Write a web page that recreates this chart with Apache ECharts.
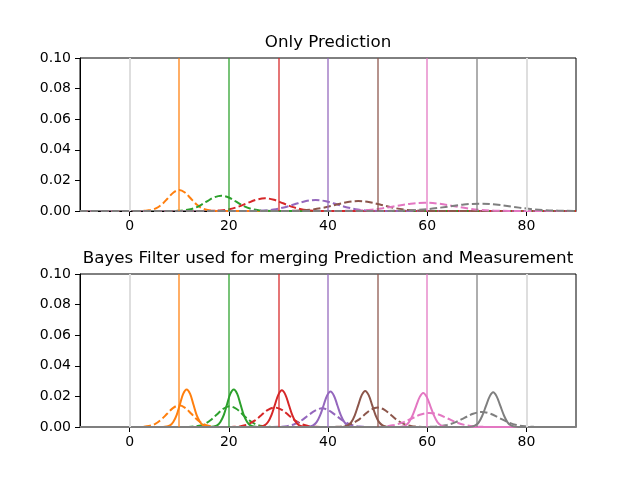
<!DOCTYPE html>
<head>
    <meta charset="utf-8">
    <title>Bayes Filter</title>
    <script src="https://cdn.jsdelivr.net/npm/echarts@6/dist/echarts.min.js"></script>
</head>
<body style="margin:0">
<div id="main" style="width:640px;height:480px"></div>
<script type="text/javascript">
    // axis range and ticks
    var xMin = -10, xMax = 90;
    var xTicks = [0, 20, 40, 60, 80];

    // measurement positions (coloured) and outer landmarks (light gray)
    var measurePos = [10, 20, 30, 40, 50, 60, 70];
    var landmarkPos = [0, 80];

    // top plot: prediction only (dashed)
    var predOrange = [[3.1,0.00015],[4.25,0.0006],[5.4,0.00185],[6.55,0.00445],[7.7,0.0083],[8.85,0.0121],[10,0.0137],[11.15,0.0121],[12.3,0.0083],[13.45,0.00445],[14.6,0.00185],[15.75,0.0006],[16.9,0.00015]];
    var predGreen = [[9.5,0.00011],[11,0.00044],[12.5,0.00135],[14,0.00325],[15.5,0.00607],[17,0.00883],[18.5,0.01],[20,0.00883],[21.5,0.00607],[23,0.00325],[24.5,0.00135],[26,0.00044],[27.5,0.00011]];
    var predRed = [[16.35,0.00009],[18.2,0.00036],[20,0.00112],[21.8,0.0027],[23.65,0.00503],[25.5,0.00733],[27.3,0.0083],[29.1,0.00733],[30.95,0.00503],[32.8,0.0027],[34.6,0.00112],[36.4,0.00036],[38.25,0.00009]];
    var predPurple = [[24.75,0.00008],[26.9,0.00032],[29,0.00097],[31.1,0.00234],[33.25,0.00437],[35.4,0.00635],[37.5,0.0072],[39.6,0.00635],[41.75,0.00437],[43.9,0.00234],[46,0.00097],[48.1,0.00032],[50.25,0.00008]];
    var predBrown = [[32,0.00007],[34.35,0.00029],[36.7,0.00088],[39.05,0.00211],[41.4,0.00394],[43.75,0.00574],[46.1,0.0065],[48.45,0.00574],[50.8,0.00394],[53.15,0.00211],[55.5,0.00088],[57.85,0.00029],[60.2,0.00007]];
    var predPink = [[42.55,0.00006],[45.4,0.00024],[48.2,0.00073],[51,0.00175],[53.85,0.00328],[56.7,0.00477],[59.5,0.0054],[62.3,0.00477],[65.15,0.00328],[68,0.00175],[70.8,0.00073],[73.6,0.00024],[76.45,0.00006]];
    var predGray = [[51.55,0.00005],[54.7,0.00021],[57.9,0.00065],[61.1,0.00156],[64.25,0.00291],[67.4,0.00424],[70.6,0.0048],[73.8,0.00424],[76.95,0.00291],[80.1,0.00156],[83.3,0.00065],[86.45,0.00021],[89.65,0.00005]];

    // bottom plot: prior (dashed)
    var priorOrange = [[2.65,0.00016],[3.9,0.00062],[5.1,0.00192],[6.3,0.00461],[7.55,0.00861],[8.8,0.01253],[10,0.0142],[11.2,0.01253],[12.45,0.00861],[13.7,0.00461],[14.9,0.00192],[16.1,0.00062],[17.35,0.00016]];
    var priorGreen = [[12.4,0.00015],[13.7,0.00059],[15,0.00183],[16.3,0.00438],[17.6,0.00819],[18.9,0.01191],[20.2,0.0135],[21.5,0.01191],[22.8,0.00819],[24.1,0.00438],[25.4,0.00183],[26.7,0.00059],[28,0.00015]];
    var priorRed = [[21.05,0.00014],[22.4,0.00056],[23.8,0.00172],[25.2,0.00412],[26.55,0.0077],[27.9,0.01121],[29.3,0.0127],[30.7,0.01121],[32.05,0.0077],[33.4,0.00412],[34.8,0.00172],[36.2,0.00056],[37.55,0.00014]];
    var priorPurple = [[30.25,0.00014],[31.7,0.00054],[33.1,0.00165],[34.5,0.00396],[35.95,0.0074],[37.4,0.01077],[38.8,0.0122],[40.2,0.01077],[41.65,0.0074],[43.1,0.00396],[44.5,0.00165],[45.9,0.00054],[47.35,0.00014]];
    var priorBrown = [[41.75,0.00014],[43.1,0.00056],[44.5,0.00172],[45.9,0.00412],[47.25,0.0077],[48.6,0.01121],[50,0.0127],[51.4,0.01121],[52.75,0.0077],[54.1,0.00412],[55.5,0.00172],[56.9,0.00056],[58.25,0.00014]];
    var priorPink = [[49.7,0.0001],[51.5,0.0004],[53.3,0.00125],[55.1,0.00299],[56.9,0.00558],[58.7,0.00812],[60.5,0.0092],[62.3,0.00812],[64.1,0.00558],[65.9,0.00299],[67.7,0.00125],[69.5,0.0004],[71.3,0.0001]];
    var priorGray = [[60.5,0.00011],[62.25,0.00043],[64,0.00133],[65.75,0.00318],[67.5,0.00594],[69.25,0.00865],[71,0.0098],[72.75,0.00865],[74.5,0.00594],[76.25,0.00318],[78,0.00133],[79.75,0.00043],[81.5,0.00011]];

    // bottom plot: posterior after measurement (solid)
    var postOrange = [[7.45,0.00027],[8.15,0.00108],[8.8,0.00332],[9.5,0.00796],[10.15,0.01486],[10.8,0.02162],[11.5,0.0245],[12.2,0.02162],[12.85,0.01486],[13.5,0.00796],[14.2,0.00332],[14.85,0.00108],[15.55,0.00027]];
    var postGreen = [[16.95,0.00027],[17.65,0.00108],[18.3,0.00332],[19,0.00796],[19.65,0.01486],[20.3,0.02162],[21,0.0245],[21.7,0.02162],[22.35,0.01486],[23,0.00796],[23.7,0.00332],[24.35,0.00108],[25.05,0.00027]];
    var postRed = [[26.5,0.00027],[27.2,0.00105],[27.9,0.00325],[28.6,0.00779],[29.3,0.01456],[30,0.02118],[30.7,0.024],[31.4,0.02118],[32.1,0.01456],[32.8,0.00779],[33.5,0.00325],[34.2,0.00105],[34.9,0.00027]];
    var postPurple = [[36.3,0.00026],[37,0.00102],[37.7,0.00314],[38.4,0.00753],[39.1,0.01407],[39.8,0.02047],[40.5,0.0232],[41.2,0.02047],[41.9,0.01407],[42.6,0.00753],[43.3,0.00314],[44,0.00102],[44.7,0.00026]];
    var postBrown = [[43.3,0.00026],[44,0.00104],[44.7,0.00319],[45.4,0.00766],[46.1,0.01431],[46.8,0.02083],[47.5,0.0236],[48.2,0.02083],[48.9,0.01431],[49.6,0.00766],[50.3,0.00319],[51,0.00104],[51.7,0.00026]];
    var postPink = [[54.85,0.00025],[55.6,0.00098],[56.3,0.00302],[57,0.00724],[57.75,0.01353],[58.5,0.01968],[59.2,0.0223],[59.9,0.01968],[60.65,0.01353],[61.4,0.00724],[62.1,0.00302],[62.8,0.00098],[63.55,0.00025]];
    var postGray = [[68.95,0.00025],[69.7,0.001],[70.4,0.00307],[71.1,0.00737],[71.85,0.01377],[72.6,0.02003],[73.3,0.0227],[74,0.02003],[74.75,0.01377],[75.5,0.00737],[76.2,0.00307],[76.9,0.001],[77.65,0.00025]];

    var colors = ['#ff7f0e', '#2ca02c', '#d62728', '#9467bd', '#8c564b', '#e377c2', '#7f7f7f'];
    var predSets = [predOrange, predGreen, predRed, predPurple, predBrown, predPink, predGray];
    var priorSets = [priorOrange, priorGreen, priorRed, priorPurple, priorBrown, priorPink, priorGray];
    var postSets = [postOrange, postGreen, postRed, postPurple, postBrown, postPink, postGray];

    var font = 'DejaVu Sans';

    // curve runs flat along zero outside its bump
    function withTails(pts){
        var step = pts[1][0] - pts[0][0];
        var first = pts[0][0] - step, last = pts[pts.length - 1][0] + step;
        var out = [[xMin, 0]];
        if (first > xMin) out.push([first, 0]);
        out = out.concat(pts);
        if (last < xMax) out.push([last, 0]);
        out.push([xMax, 0]);
        return out;
    }

    function curve(pts, color, gridIdx, dashed){
        return {
            type: 'line',
            xAxisIndex: gridIdx,
            yAxisIndex: gridIdx,
            data: withTails(pts),
            smooth: 0.35,
            showSymbol: false,
            silent: true,
            lineStyle: {color: color, width: 2, type: dashed ? [7.4, 3.2] : 'solid'},
            z: dashed ? 2 : 3
        };
    }

    // vertical lines at measurement and landmark positions
    function vLines(gridIdx){
        var d = [];
        landmarkPos.forEach(function(x){
            d.push({xAxis: x, lineStyle: {color: '#dedede', width: 2, type: 'solid', opacity: 1}});
        });
        measurePos.forEach(function(x, i){
            d.push({xAxis: x, lineStyle: {color: colors[i], width: 1.5, type: 'solid', opacity: 0.85}});
        });
        return {
            type: 'line',
            xAxisIndex: gridIdx,
            yAxisIndex: gridIdx,
            data: [],
            silent: true,
            z: 1,
            markLine: {symbol: 'none', silent: true, label: {show: false}, data: d, animation: false}
        };
    }

    function xAxisOf(gridIdx){
        return {
            type: 'value', gridIndex: gridIdx, min: xMin, max: xMax,
            axisLine: {show: true, onZero: false, lineStyle: {color: '#000', width: 1}},
            axisTick: {show: true, length: 5, customValues: xTicks, lineStyle: {color: '#000'}},
            axisLabel: {customValues: xTicks, color: '#000', fontSize: 14, fontFamily: font, margin: 8},
            splitLine: {show: false}
        };
    }

    function yAxisOf(gridIdx){
        return {
            type: 'value', gridIndex: gridIdx, min: 0, max: 0.1, interval: 0.02,
            axisLine: {show: true, onZero: false, lineStyle: {color: '#000', width: 1}},
            axisTick: {show: true, length: 5, lineStyle: {color: '#000'}},
            axisLabel: {color: '#000', fontSize: 14, fontFamily: font, margin: 9,
                formatter: function(v){ return v.toFixed(2); }},
            splitLine: {show: false}
        };
    }

    var series = [vLines(0), vLines(1)];
    predSets.forEach(function(p, i){ series.push(curve(p, colors[i], 0, true)); });
    priorSets.forEach(function(p, i){
        series.push(curve(p, colors[i], 1, true));
        series.push(curve(postSets[i], colors[i], 1, false));
    });

    var myChart = echarts.init(document.getElementById('main'));
    myChart.setOption({
        animation: false,
        backgroundColor: '#fff',
        grid: [
            {left: 80, top: 58, width: 496, height: 153, show: true, borderColor: '#000', borderWidth: 1, backgroundColor: 'transparent'},
            {left: 80, top: 274, width: 496, height: 153, show: true, borderColor: '#000', borderWidth: 1, backgroundColor: 'transparent'}
        ],
        xAxis: [xAxisOf(0), xAxisOf(1)],
        yAxis: [yAxisOf(0), yAxisOf(1)],
        graphic: [
            {type: 'text', x: 328, y: 43, silent: true,
                style: {text: 'Only Prediction', fontSize: 16.7, fontFamily: font, fill: '#000', align: 'center', verticalAlign: 'middle'}},
            {type: 'text', x: 328, y: 259, silent: true,
                style: {text: 'Bayes Filter used for merging Prediction and Measurement', fontSize: 16.7, fontFamily: font, fill: '#000', align: 'center', verticalAlign: 'middle'}}
        ],
        series: series
    });
</script>
</body>
